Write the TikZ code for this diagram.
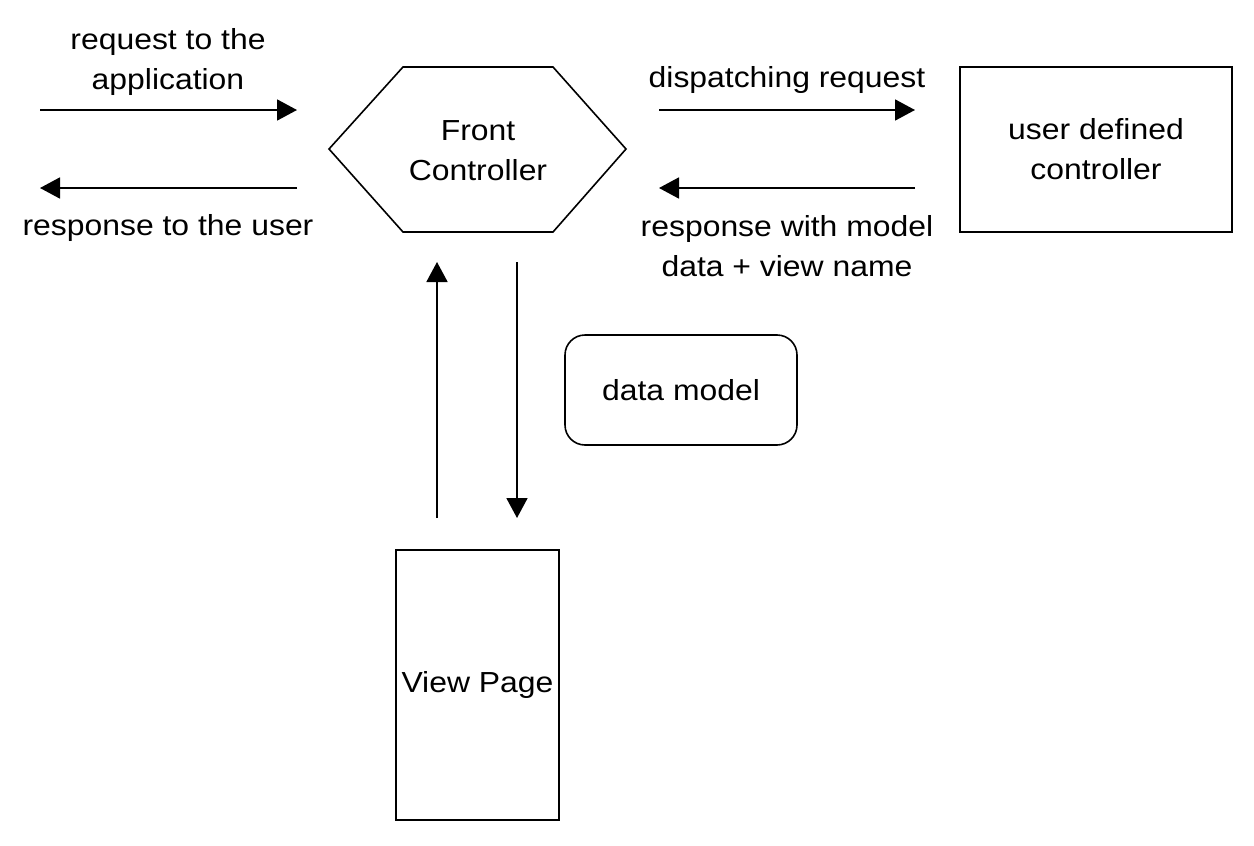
\documentclass[tikz,border=0pt]{standalone}
\usepackage{fontspec}
\setmainfont{Liberation Sans}[FakeStretch=1.1]
\usetikzlibrary{arrows.meta}
\begin{document}
\begin{tikzpicture}[x=1pt,y=-1pt,
  every node/.style={font=\fontsize{29}{40}\selectfont, align=center, inner sep=0pt},
  box/.style={draw, line width=1.6pt},
  conn/.style={line width=1.8pt, -{Triangle[length=20pt,width=21pt]}}]
\useasboundingbox (0,0) rectangle (1254,846);
% Front controller hexagon
\draw[box, line join=miter] (329,149) -- (403,67) -- (553,67) -- (626,149) -- (553,232) -- (403,232) -- cycle;
\node (fc) at (478,151) {Front\\Controller};
% user defined controller
\node[box, minimum width=272pt, minimum height=165pt] (udc) at (1096,149.5) {user defined\\controller};
% data model
\node[box, rounded corners=20pt, minimum width=232pt, minimum height=110pt] (dm) at (681,390) {data model};
% view page
\node[box, minimum width=163pt, minimum height=270pt] (vp) at (477.5,685) {View Page};
% coordinates for arrows
\coordinate (a1s) at (40,110); \coordinate (a1e) at (297,110);
\coordinate (a2s) at (297,188); \coordinate (a2e) at (40,188);
\coordinate (a3s) at (659,110); \coordinate (a3e) at (915,110);
\coordinate (a4s) at (915,188); \coordinate (a4e) at (659,188);
\coordinate (a5s) at (437,518); \coordinate (a5e) at (437,262);
\coordinate (a6s) at (517,262); \coordinate (a6e) at (517,518);
\draw[conn] (a1s) -- (a1e);
\draw[conn] (a2s) -- (a2e);
\draw[conn] (a3s) -- (a3e);
\draw[conn] (a4s) -- (a4e);
\draw[conn] (a5s) -- (a5e);
\draw[conn] (a6s) -- (a6e);
% labels
\node (l1) at (168,62) {request to the\\application};
\node (l2) at (168,228) {response to the user};
\node (l3) at (787,80) {dispatching request};
\node (l4) at (787,246) {response with model\\data + view name};
\end{tikzpicture}
\end{document}
